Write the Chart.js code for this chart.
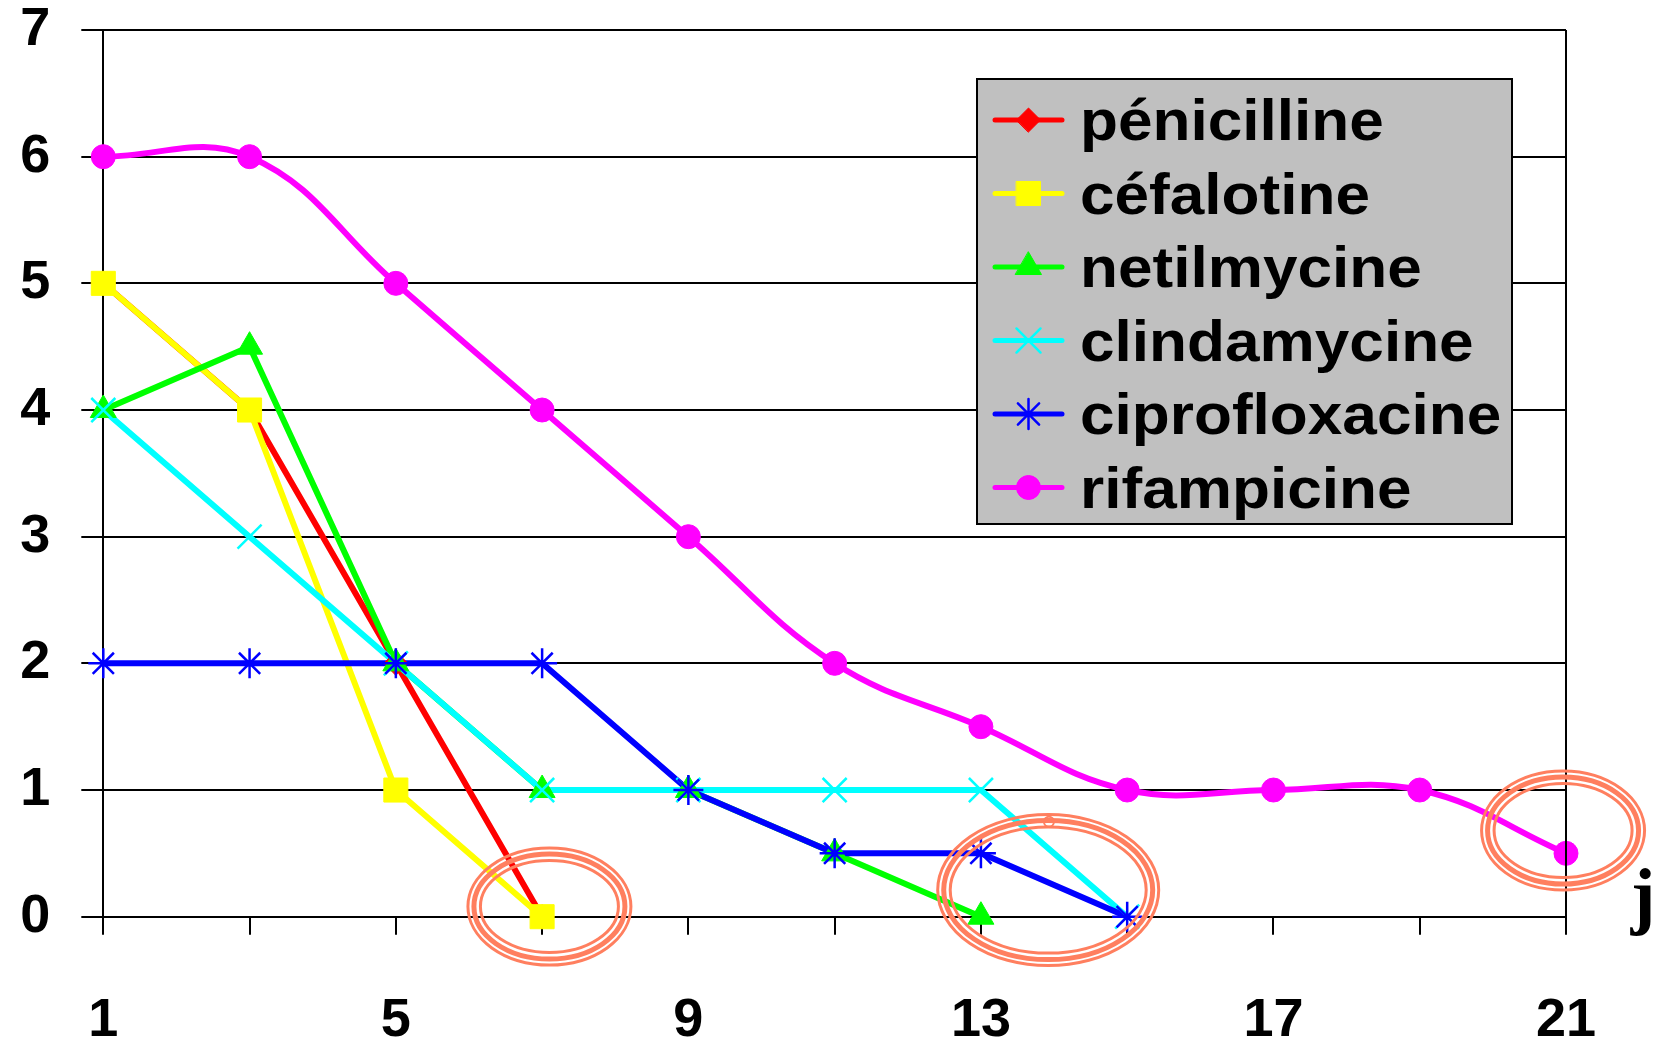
<!DOCTYPE html>
<html lang="fr">
<head>
    <meta charset="UTF-8">
    <title>Antibiotiques</title>
    <script src="https://cdn.jsdelivr.net/npm/chart.js"></script>
    <style>
        body {
            margin: 0;
            background: #fff;
        }
        #wrap {
            width: 1663px;
            height: 1044px;
            position: relative;
        }
    </style>
</head>
<body>
    <div id="wrap">
        <canvas id="lineChart"></canvas>
    </div>

    <script>
        // jours (axe x) et valeurs
        const days = [1, 3, 5, 7, 9, 11, 13, 15, 17, 19, 21];
        const xLabelDays = [1, 5, 9, 13, 17, 21];
        const seriesNames = ['pénicilline', 'céfalotine', 'netilmycine', 'clindamycine', 'ciprofloxacine', 'rifampicine'];
        const penicilline = [5, 4, 2, 0];
        const cefalotine = [5, 4, 1, 0];
        const netilmycine = [4, 4.5, 2, 1, 1, 0.5, 0];
        const clindamycine = [4, 3, 2, 1, 1, 1, 1, 0];
        const ciprofloxacine = [2, 2, 2, 2, 1, 0.5, 0.5, 0];
        const rifampicine = [6, 6, 5, 4, 3, 2, 1.5, 1, 1, 1, 0.5];

        // centres des cercles orange (en jours / valeur)
        const circleDay = [7.1, 13.92, 20.96];
        const circleVal = [0.08, 0.21, 0.68];

        const allValues = [penicilline, cefalotine, netilmycine, clindamycine, ciprofloxacine, rifampicine];
        const colors = ['#FF0000', '#FFFF00', '#00FF00', '#00FFFF', '#0000FF', '#FF00FF'];
        const markers = [
            { style: 'rectRot', radius: 12, border: 1 },
            { style: 'rect', radius: 17, border: 1 },
            { style: 'triangle', radius: 15, border: 1 },
            { style: 'crossRot', radius: 17, border: 2.5 },
            { style: 'star', radius: 15, border: 2.5 },
            { style: 'circle', radius: 12, border: 1 }
        ];

        function toPoints(vals) {
            return vals.map(function (v, i) { return { x: days[i], y: v }; });
        }

        // comme Excel : toutes les courbes d'abord, puis les marqueurs par-dessus
        var datasets = [];
        for (var i = 0; i < allValues.length; i++) {
            datasets.push({
                label: seriesNames[i],
                data: toPoints(allValues[i]),
                borderColor: colors[i],
                borderWidth: 6,
                pointRadius: 0,
                tension: i === 5 ? 0.4 : 0,
                fill: false,
                clip: false,
                order: 20 - i
            });
            datasets.push({
                label: seriesNames[i] + ' (points)',
                data: toPoints(allValues[i]),
                showLine: false,
                backgroundColor: colors[i],
                borderColor: colors[i],
                pointBackgroundColor: colors[i],
                pointBorderColor: colors[i],
                pointStyle: markers[i].style,
                pointRadius: markers[i].radius,
                pointBorderWidth: markers[i].border,
                clip: false,
                order: 10 - i
            });
        }

        // légende grise dans le graphique
        const legendBox = {
            id: 'legendBox',
            afterDatasetsDraw: function (chart) {
                var ctx = chart.ctx;
                ctx.save();
                ctx.fillStyle = '#C0C0C0';
                ctx.fillRect(977, 79, 535, 445);
                ctx.strokeStyle = '#000';
                ctx.lineWidth = 2;
                ctx.strokeRect(977, 79, 535, 445);
                for (var i = 0; i < seriesNames.length; i++) {
                    var y = 120 + i * 73.5;
                    ctx.strokeStyle = colors[i];
                    ctx.lineWidth = 5;
                    ctx.lineCap = 'round';
                    ctx.beginPath();
                    ctx.moveTo(995, y);
                    ctx.lineTo(1062, y);
                    ctx.stroke();
                    ctx.fillStyle = colors[i];
                    ctx.lineWidth = markers[i].border;
                    Chart.helpers.drawPoint(ctx, {
                        pointStyle: markers[i].style,
                        radius: markers[i].radius,
                        borderWidth: markers[i].border,
                        rotation: 0
                    }, 1028.5, y);
                    // texte un peu élargi comme dans l'original
                    ctx.save();
                    ctx.translate(1080, y + 20);
                    ctx.scale(1.09, 1);
                    ctx.fillStyle = '#000';
                    ctx.font = 'bold 57px "Liberation Sans", Arial, sans-serif';
                    ctx.textAlign = 'left';
                    ctx.textBaseline = 'alphabetic';
                    ctx.fillText(seriesNames[i], 0, 0);
                    ctx.restore();
                }
                ctx.restore();
            }
        };

        // cadre droit, cercles orange et "j"
        const extras = {
            id: 'extras',
            afterDraw: function (chart) {
                var ctx = chart.ctx;
                var area = chart.chartArea;
                var xs = chart.scales.x, ys = chart.scales.y;
                ctx.save();
                ctx.strokeStyle = '#000';
                ctx.lineWidth = 2;
                ctx.beginPath();
                ctx.moveTo(area.right, area.top);
                ctx.lineTo(area.right, area.bottom);
                ctx.stroke();

                var radii = [[83, 60], [112, 77], [83, 61]];
                ctx.strokeStyle = '#FF7F5F';
                for (var k = 0; k < circleDay.length; k++) {
                    var cx = xs.getPixelForValue(circleDay[k]);
                    var cy = ys.getPixelForValue(circleVal[k]);
                    var rings = [[1.5, 3], [7.5, 5], [14, 3]];
                    for (var r = 0; r < rings.length; r++) {
                        ctx.lineWidth = rings[r][1];
                        ctx.beginPath();
                        ctx.ellipse(cx, cy, radii[k][0] - rings[r][0], radii[k][1] - rings[r][0], 0, 0, Math.PI * 2);
                        ctx.stroke();
                    }
                }
                // petit rond sur le deuxième cercle
                ctx.lineWidth = 2;
                ctx.beginPath();
                ctx.arc(xs.getPixelForValue(13.93), ys.getPixelForValue(0.75), 5, 0, Math.PI * 2);
                ctx.stroke();

                ctx.fillStyle = '#000';
                ctx.font = 'bold 74px "Liberation Serif", "Times New Roman", serif';
                ctx.textAlign = 'center';
                ctx.textBaseline = 'alphabetic';
                ctx.fillText('j', 1643, 920);
                ctx.restore();
            }
        };

        var ctx = document.getElementById('lineChart').getContext('2d');
        var myChart = new Chart(ctx, {
            type: 'line',
            data: { datasets: datasets },
            options: {
                responsive: true,
                maintainAspectRatio: false,
                animation: false,
                events: [],
                layout: { padding: { top: 30, right: 97, left: 0, bottom: 0 } },
                plugins: {
                    legend: { display: false },
                    tooltip: { enabled: false }
                },
                scales: {
                    x: {
                        type: 'linear',
                        min: 1,
                        max: 21,
                        afterBuildTicks: function (scale) {
                            scale.ticks = days.map(function (d) { return { value: d }; });
                        },
                        afterFit: function (scale) {
                            scale.height = 127.3;
                            scale.paddingLeft = 0;
                            scale.paddingRight = 0;
                        },
                        grid: {
                            drawOnChartArea: false,
                            drawTicks: true,
                            tickLength: 18,
                            color: '#000',
                            lineWidth: 2
                        },
                        border: { display: true, color: '#000', width: 2 },
                        ticks: {
                            autoSkip: false,
                            maxRotation: 0,
                            padding: 54,
                            color: '#000',
                            font: { family: '"Liberation Sans", Arial, sans-serif', size: 54, weight: 'bold' },
                            callback: function (v) { return xLabelDays.indexOf(v) >= 0 ? String(v) : ''; }
                        }
                    },
                    y: {
                        min: 0,
                        max: 7,
                        afterFit: function (scale) {
                            scale.width = 103.3;
                            scale.paddingTop = 0;
                            scale.paddingBottom = 0;
                        },
                        grid: {
                            drawOnChartArea: true,
                            drawTicks: true,
                            tickLength: 22,
                            color: '#000',
                            lineWidth: 2
                        },
                        border: { display: true, color: '#000', width: 2 },
                        ticks: {
                            stepSize: 1,
                            padding: 31,
                            color: '#000',
                            font: { family: '"Liberation Sans", Arial, sans-serif', size: 54, weight: 'bold', lineHeight: 1 }
                        }
                    }
                }
            },
            plugins: [legendBox, extras]
        });
    </script>
</body>
</html>
